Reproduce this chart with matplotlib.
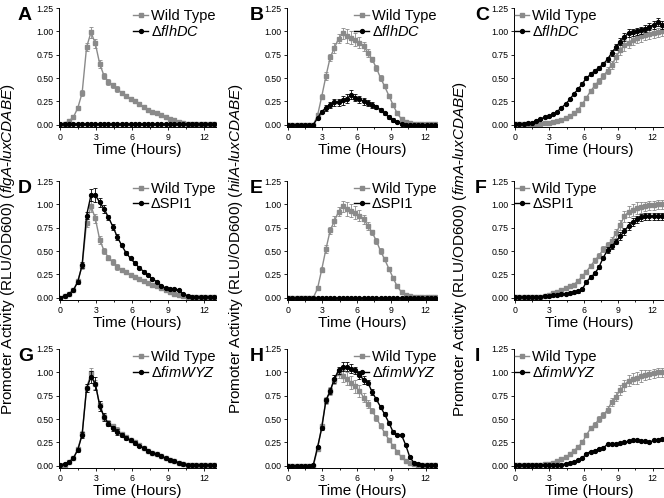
import matplotlib
matplotlib.use("Agg")
import matplotlib.pyplot as plt
from matplotlib.lines import Line2D

plt.rcParams['font.family'] = ['Liberation Sans', 'DejaVu Sans']
plt.rcParams['mathtext.fontset'] = 'custom'
plt.rcParams['mathtext.it'] = 'Liberation Sans:italic'
plt.rcParams['mathtext.rm'] = 'Liberation Sans'

# sampling times (hours), every 22 min
time_h = [0.00, 0.37, 0.73, 1.10, 1.47, 1.83, 2.20, 2.57, 2.93, 3.30, 3.67, 4.03,
          4.40, 4.77, 5.13, 5.50, 5.87, 6.23, 6.60, 6.97, 7.33, 7.70, 8.07, 8.43,
          8.80, 9.17, 9.53, 9.90, 10.27, 10.63, 11.00, 11.37, 11.73, 12.10, 12.47, 12.83]

# row 1: flhDC mutant
a_wt = [0.00, 0.01, 0.04, 0.08, 0.18, 0.34, 0.83, 0.99, 0.87, 0.65, 0.52, 0.46,
        0.42, 0.38, 0.34, 0.31, 0.28, 0.25, 0.22, 0.19, 0.16, 0.14, 0.12, 0.10,
        0.08, 0.06, 0.05, 0.03, 0.02, 0.01, 0.01, 0.01, 0.01, 0.01, 0.01, 0.01]
a_mut = [0.01, 0.01, 0.01, 0.01, 0.01, 0.01, 0.01, 0.01, 0.01, 0.01, 0.01, 0.01,
         0.01, 0.01, 0.01, 0.01, 0.01, 0.01, 0.01, 0.01, 0.01, 0.01, 0.01, 0.01,
         0.01, 0.01, 0.01, 0.01, 0.01, 0.01, 0.01, 0.01, 0.01, 0.01, 0.01, 0.01]
b_wt = [0.00, 0.00, 0.00, 0.00, 0.00, 0.00, 0.00, 0.10, 0.30, 0.52, 0.72, 0.82,
        0.92, 0.98, 0.95, 0.93, 0.91, 0.88, 0.84, 0.77, 0.70, 0.61, 0.50, 0.41,
        0.31, 0.21, 0.12, 0.06, 0.03, 0.02, 0.01, 0.01, 0.01, 0.01, 0.01, 0.01]
b_mut = [0.00, 0.00, 0.00, 0.00, 0.00, 0.00, 0.00, 0.07, 0.14, 0.18, 0.21, 0.24,
         0.24, 0.26, 0.28, 0.32, 0.29, 0.27, 0.25, 0.23, 0.21, 0.19, 0.16, 0.12,
         0.08, 0.05, 0.03, 0.01, 0.00, 0.00, 0.00, 0.00, 0.00, 0.00, 0.00, 0.00]
c_wt = [0.01, 0.01, 0.01, 0.01, 0.01, 0.01, 0.01, 0.02, 0.02, 0.03, 0.04, 0.05,
        0.07, 0.09, 0.12, 0.16, 0.22, 0.29, 0.36, 0.42, 0.47, 0.52, 0.58, 0.64,
        0.72, 0.80, 0.85, 0.88, 0.91, 0.93, 0.95, 0.96, 0.97, 0.98, 0.99, 1.00]
c_mut = [0.01, 0.01, 0.01, 0.02, 0.02, 0.04, 0.06, 0.08, 0.09, 0.11, 0.14, 0.18,
         0.22, 0.27, 0.33, 0.38, 0.44, 0.50, 0.54, 0.58, 0.61, 0.65, 0.70, 0.77,
         0.83, 0.89, 0.94, 0.98, 0.99, 1.00, 1.01, 1.03, 1.05, 1.07, 1.10, 1.07]

# row 2: SPI1 mutant
d_wt = [0.00, 0.02, 0.04, 0.08, 0.18, 0.34, 0.80, 0.98, 0.85, 0.62, 0.50, 0.43,
        0.38, 0.33, 0.30, 0.27, 0.24, 0.22, 0.20, 0.18, 0.16, 0.14, 0.12, 0.10,
        0.08, 0.06, 0.04, 0.03, 0.02, 0.01, 0.01, 0.01, 0.01, 0.01, 0.01, 0.01]
d_mut = [0.00, 0.02, 0.04, 0.08, 0.17, 0.35, 0.88, 1.10, 1.10, 1.02, 0.95, 0.86,
         0.76, 0.65, 0.56, 0.48, 0.42, 0.37, 0.32, 0.28, 0.24, 0.20, 0.17, 0.13,
         0.10, 0.09, 0.09, 0.08, 0.04, 0.02, 0.01, 0.01, 0.01, 0.01, 0.01, 0.01]
e_wt = [0.00, 0.00, 0.00, 0.00, 0.00, 0.00, 0.00, 0.10, 0.30, 0.52, 0.72, 0.82,
        0.92, 0.98, 0.95, 0.93, 0.91, 0.88, 0.84, 0.77, 0.70, 0.61, 0.50, 0.41,
        0.31, 0.21, 0.12, 0.06, 0.03, 0.02, 0.01, 0.01, 0.01, 0.01, 0.01, 0.01]
e_mut = [0.00, 0.00, 0.00, 0.00, 0.00, 0.00, 0.00, 0.00, 0.00, 0.00, 0.00, 0.00,
         0.00, 0.00, 0.00, 0.00, 0.00, 0.00, 0.00, 0.00, 0.00, 0.00, 0.00, 0.00,
         0.00, 0.00, 0.00, 0.00, 0.00, 0.00, 0.00, 0.00, 0.00, 0.00, 0.00, 0.00]
f_wt = [0.01, 0.01, 0.01, 0.01, 0.01, 0.01, 0.01, 0.02, 0.03, 0.05, 0.06, 0.08,
        0.10, 0.12, 0.14, 0.18, 0.23, 0.28, 0.34, 0.40, 0.45, 0.52, 0.56, 0.61,
        0.69, 0.78, 0.87, 0.92, 0.94, 0.96, 0.97, 0.98, 0.99, 0.99, 1.00, 1.00]
f_mut = [0.01, 0.01, 0.01, 0.01, 0.01, 0.01, 0.01, 0.02, 0.02, 0.03, 0.03, 0.04,
         0.04, 0.05, 0.06, 0.07, 0.09, 0.17, 0.22, 0.26, 0.33, 0.43, 0.51, 0.55,
         0.60, 0.66, 0.71, 0.77, 0.81, 0.84, 0.86, 0.87, 0.87, 0.87, 0.87, 0.87]

# row 3: fimWYZ mutant
g_wt = [0.00, 0.01, 0.04, 0.08, 0.18, 0.34, 0.83, 0.99, 0.87, 0.65, 0.52, 0.46,
        0.42, 0.38, 0.34, 0.31, 0.28, 0.25, 0.22, 0.19, 0.16, 0.14, 0.12, 0.10,
        0.08, 0.06, 0.05, 0.03, 0.02, 0.01, 0.01, 0.01, 0.01, 0.01, 0.01, 0.01]
g_mut = [0.01, 0.02, 0.04, 0.08, 0.17, 0.33, 0.83, 0.95, 0.88, 0.64, 0.52, 0.45,
         0.40, 0.36, 0.33, 0.30, 0.27, 0.24, 0.21, 0.19, 0.16, 0.14, 0.12, 0.10,
         0.08, 0.06, 0.05, 0.03, 0.02, 0.01, 0.01, 0.01, 0.01, 0.01, 0.01, 0.01]
h_wt = [0.00, 0.00, 0.00, 0.00, 0.00, 0.00, 0.00, 0.18, 0.42, 0.70, 0.80, 0.92,
        0.99, 0.96, 0.93, 0.89, 0.85, 0.80, 0.73, 0.66, 0.59, 0.51, 0.43, 0.35,
        0.28, 0.21, 0.15, 0.09, 0.05, 0.03, 0.02, 0.01, 0.01, 0.01, 0.01, 0.01]
h_mut = [0.00, 0.00, 0.00, 0.00, 0.00, 0.00, 0.01, 0.20, 0.40, 0.70, 0.80, 0.93,
         1.02, 1.06, 1.06, 1.04, 1.02, 0.97, 0.92, 0.89, 0.79, 0.71, 0.63, 0.55,
         0.46, 0.36, 0.33, 0.33, 0.22, 0.09, 0.03, 0.02, 0.01, 0.01, 0.01, 0.01]
i_wt = [0.01, 0.01, 0.01, 0.01, 0.01, 0.01, 0.01, 0.02, 0.02, 0.03, 0.05, 0.07,
        0.09, 0.12, 0.16, 0.20, 0.25, 0.33, 0.40, 0.44, 0.50, 0.54, 0.60, 0.68,
        0.74, 0.81, 0.86, 0.91, 0.93, 0.94, 0.96, 0.97, 0.98, 0.99, 1.00, 1.00]
i_mut = [0.01, 0.01, 0.01, 0.01, 0.01, 0.01, 0.01, 0.01, 0.01, 0.01, 0.01, 0.01,
         0.02, 0.03, 0.04, 0.06, 0.08, 0.13, 0.15, 0.16, 0.18, 0.19, 0.23, 0.23,
         0.23, 0.24, 0.25, 0.26, 0.27, 0.27, 0.26, 0.26, 0.25, 0.27, 0.27, 0.29]

# error bars (SD)
flg_err = [0.005, 0.005, 0.01, 0.01, 0.015, 0.03, 0.04, 0.06, 0.05, 0.04, 0.03, 0.03,
           0.03, 0.03, 0.02, 0.02, 0.02, 0.02, 0.015, 0.015, 0.01, 0.01, 0.01, 0.01,
           0.01, 0.01, 0.005, 0.005, 0.005, 0.005, 0.005, 0.005, 0.005, 0.005, 0.005, 0.005]
flg_mut_err = [0.005, 0.01, 0.01, 0.01, 0.02, 0.03, 0.04, 0.06, 0.07, 0.05, 0.04, 0.03,
               0.03, 0.03, 0.02, 0.02, 0.02, 0.02, 0.015, 0.015, 0.01, 0.01, 0.01, 0.01,
               0.01, 0.01, 0.01, 0.005, 0.005, 0.005, 0.005, 0.005, 0.005, 0.005, 0.005, 0.005]
hil_err = [0.005, 0.005, 0.005, 0.005, 0.005, 0.005, 0.005, 0.02, 0.03, 0.04, 0.04, 0.05,
           0.05, 0.06, 0.07, 0.07, 0.07, 0.06, 0.05, 0.04, 0.03, 0.03, 0.03, 0.02,
           0.02, 0.02, 0.01, 0.01, 0.01, 0.01, 0.005, 0.005, 0.005, 0.005, 0.005, 0.005]
hil_mut_err = [0.005, 0.005, 0.005, 0.005, 0.005, 0.005, 0.005, 0.01, 0.02, 0.03, 0.03, 0.04,
               0.04, 0.05, 0.05, 0.05, 0.04, 0.04, 0.04, 0.03, 0.03, 0.02, 0.02, 0.02,
               0.02, 0.02, 0.01, 0.01, 0.01, 0.01, 0.005, 0.005, 0.005, 0.005, 0.005, 0.005]
fim_err = [0.005, 0.005, 0.005, 0.005, 0.005, 0.005, 0.005, 0.005, 0.005, 0.005, 0.01, 0.01,
           0.01, 0.01, 0.01, 0.015, 0.015, 0.02, 0.02, 0.025, 0.03, 0.03, 0.04, 0.04,
           0.05, 0.05, 0.06, 0.06, 0.06, 0.06, 0.06, 0.05, 0.05, 0.05, 0.05, 0.05]
fim_mut_err = [0.005, 0.005, 0.005, 0.005, 0.005, 0.005, 0.005, 0.005, 0.005, 0.005, 0.01, 0.01,
               0.01, 0.01, 0.01, 0.015, 0.015, 0.02, 0.02, 0.02, 0.02, 0.02, 0.03, 0.03,
               0.03, 0.04, 0.04, 0.04, 0.04, 0.04, 0.04, 0.04, 0.04, 0.04, 0.04, 0.04]
low_err = [0.005, 0.005, 0.005, 0.005, 0.005, 0.005, 0.005, 0.005, 0.005, 0.005, 0.005, 0.005,
           0.005, 0.005, 0.005, 0.005, 0.005, 0.005, 0.005, 0.005, 0.005, 0.005, 0.005, 0.005,
           0.005, 0.005, 0.005, 0.005, 0.005, 0.005, 0.005, 0.005, 0.005, 0.005, 0.005, 0.005]

panel_letters = ["A", "B", "C", "D", "E", "F", "G", "H", "I"]
mutant_names = ["Δ$\\it{flhDC}$", "ΔSPI1", "Δ$\\it{fimWYZ}$"]
reporters = ["flgA-luxCDABE", "hilA-luxCDABE", "fimA-luxCDABE"]

wt_series = [a_wt, b_wt, c_wt, d_wt, e_wt, f_wt, g_wt, h_wt, i_wt]
mut_series = [a_mut, b_mut, c_mut, d_mut, e_mut, f_mut, g_mut, h_mut, i_mut]
wt_errs = [flg_err, hil_err, fim_err] * 3
mut_errs = [low_err, hil_mut_err, fim_mut_err,
            flg_mut_err, low_err, fim_mut_err,
            flg_mut_err, hil_mut_err, low_err]
legend_loc = ["upper right", "upper right", "upper left"]

W, H = 664, 498
fig = plt.figure(figsize=(6.64, 4.98), dpi=100)

col_left = [59, 287, 514]
col_width = [157, 150, 150]
row_top = [8, 181, 349]
row_bottom = [127, 300, 468]
letter_x = [18, 250, 475]
ylab_x = [8, 236, 460]

gray = "#8a8a8a"
ms = 2.8

for k in range(9):
    r, c = divmod(k, 3)
    ax = fig.add_axes([col_left[c] / W, 1 - row_bottom[r] / H,
                       col_width[c] / W, (row_bottom[r] - row_top[r]) / H])
    ax.errorbar(time_h, wt_series[k], yerr=wt_errs[k], color=gray, marker="s",
                markersize=ms, lw=1.0, elinewidth=0.6, capsize=1.3, capthick=0.6,
                zorder=2)
    ax.errorbar(time_h, mut_series[k], yerr=mut_errs[k], color="black", marker="o",
                markersize=ms, lw=1.0, elinewidth=0.6, capsize=1.3, capthick=0.6,
                zorder=3)
    ax.set_xlim(-0.1, 13.0)
    ax.set_ylim(-0.025, 1.25)
    ax.set_xticks([0, 3, 6, 9, 12])
    ax.set_xticks([1.5, 4.5, 7.5, 10.5], minor=True)
    ax.set_yticks([0, 0.25, 0.5, 0.75, 1.0, 1.25])
    ax.set_yticklabels(["0.00", "0.25", "0.50", "0.75", "1.00", "1.25"])
    ax.tick_params(labelsize=6.3, length=2.5, width=0.6, pad=1.5)
    ax.tick_params(which="minor", length=1.5, width=0.6)
    for s in ["top", "right"]:
        ax.spines[s].set_visible(False)
    for s in ["left", "bottom"]:
        ax.spines[s].set_linewidth(0.7)
    ax.set_xlabel("Time (Hours)", fontsize=11, labelpad=1)
    handles = [Line2D([], [], color=gray, marker="s", markersize=ms, lw=1.0),
               Line2D([], [], color="black", marker="o", markersize=ms, lw=1.0)]
    ax.legend(handles, ["Wild Type", mutant_names[r]], loc=legend_loc[c],
              frameon=False, fontsize=10.5, handlelength=1.0, handletextpad=0.2,
              labelspacing=0.1, borderaxespad=0.0, borderpad=0.05)
    fig.text(letter_x[c] / W, 1 - (row_top[r] - 1) / H, panel_letters[k],
             fontsize=14, fontweight="bold", ha="left", va="top")

for c in range(3):
    fig.text(ylab_x[c] / W, 0.5,
             "Promoter Activity (RLU/OD600) ($\\it{" + reporters[c].replace("-", "}$-$\\it{") + "}$)",
             rotation=90, fontsize=11, ha="center", va="center")

fig.savefig("out.png", dpi=100)
